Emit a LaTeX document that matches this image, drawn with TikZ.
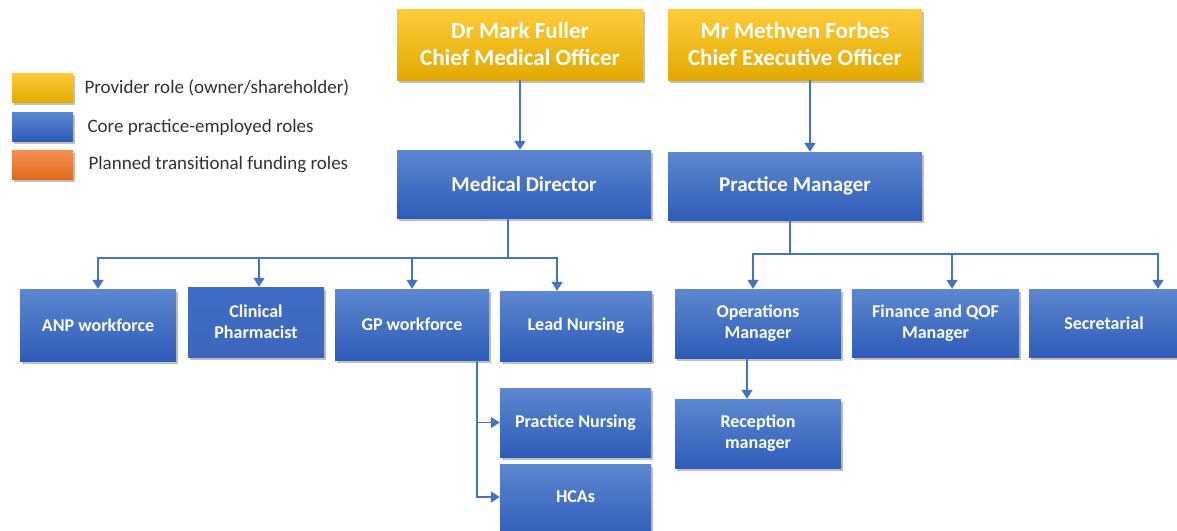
\documentclass[tikz,border=0pt]{standalone}
\usepackage{fontspec}
\setmainfont{Carlito}
\usetikzlibrary{arrows.meta,shadows,calc}

\definecolor{ytop}{HTML}{FFCB3A}
\definecolor{ymid}{HTML}{FFC000}
\definecolor{ybot}{HTML}{E2AA00}
\definecolor{btop}{HTML}{5D87D0}
\definecolor{bmid}{HTML}{3F6CC6}
\definecolor{bbot}{HTML}{2E5CB8}
\definecolor{otop}{HTML}{F49050}
\definecolor{omid}{HTML}{F07A2A}
\definecolor{obot}{HTML}{E06A1A}
\definecolor{linkc}{HTML}{4472C4}
\definecolor{legtext}{HTML}{333333}

\tikzset{
  shadowed/.style={drop shadow={shadow xshift=1.5pt, shadow yshift=-2.5pt, opacity=0.35, fill=black!70}},
  provider/.style={rectangle, inner sep=2pt, shadowed,
    top color=ytop, middle color=ymid, bottom color=ybot,
    text=white, font=\bfseries\fontsize{23}{27}\selectfont, align=center},
  corebox/.style={rectangle, inner sep=2pt, shadowed,
    top color=btop, middle color=bmid, bottom color=bbot,
    text=white, font=\bfseries\fontsize{18}{21}\selectfont, align=center},
  bigcore/.style={corebox, font=\bfseries\fontsize{21}{24}\selectfont},
  flatcore/.style={corebox, top color=bmid, middle color=bmid, bottom color=bmid!95!black},
  swatch/.style={rectangle, minimum width=61pt, minimum height=29pt, shadowed},
  legendtext/.style={anchor=west, text=legtext, font=\fontsize{19}{22}\selectfont},
  link/.style={draw=linkc, line width=1.4pt},
  arr/.style={link, -{Triangle[width=11pt,length=9pt]}}
}

\begin{document}
\begin{tikzpicture}[x=1pt, y=-1pt]
\clip (0,0) rectangle (1177,530);
\fill[white] (0,0) rectangle (1177,530);

% legend
\node[swatch, top color=ytop, middle color=ymid, bottom color=ybot] (sw1) at (42.5,87.5) {};
\node[swatch, top color=btop, middle color=bmid, bottom color=bbot] (sw2) at (42.5,126.5) {};
\node[swatch, top color=otop, middle color=omid, bottom color=obot] (sw3) at (42.5,164.5) {};
\node[legendtext] (lt1) at (81,88) {Provider role (owner/shareholder)};
\node[legendtext] (lt2) at (84,127) {Core practice-employed roles};
\node[legendtext] (lt3) at (85,165) {Planned transitional funding roles};

% owners
\node[provider, minimum width=246pt, minimum height=71pt] (cmo) at (520,44.5) {Dr Mark Fuller\\Chief Medical Officer};
\node[provider, minimum width=254pt, minimum height=71pt] (ceo) at (795,44.5) {Mr Methven Forbes\\Chief Executive Officer};

% directors
\node[bigcore, minimum width=254pt, minimum height=68pt] (md) at (524,184) {Medical Director};
\node[bigcore, minimum width=254pt, minimum height=68pt] (pm) at (795,186) {Practice Manager};

% clinical staff
\node[corebox, minimum width=156pt, minimum height=72pt] (anp) at (98,325) {ANP workforce};
\node[flatcore, minimum width=136pt, minimum height=70pt] (cph) at (256,322) {Clinical\\Pharmacist};
\node[corebox, minimum width=154pt, minimum height=71pt] (gp) at (412,324.5) {GP workforce};
\node[corebox, minimum width=152pt, minimum height=70pt] (lead) at (576,326) {Lead Nursing};
\node[corebox, minimum width=151pt, minimum height=69pt] (pn) at (575.5,422.5) {Practice Nursing};
\node[corebox, minimum width=151pt, minimum height=76pt] (hca) at (575.5,502) {};
\node[text=white, font=\bfseries\fontsize{18}{21}\selectfont] (hcat) at (575.5,497) {HCAs};

% management staff
\node[corebox, minimum width=166pt, minimum height=69pt] (ops) at (758,323.5) {Operations\\Manager};
\node[corebox, minimum width=167pt, minimum height=68pt] (fin) at (935.5,323) {Finance and QOF\\Manager};
\node[corebox, minimum width=150pt, minimum height=68pt] (sec) at (1104,323) {Secretarial};
\node[corebox, minimum width=166pt, minimum height=69pt] (rec) at (758,433.5) {Reception\\manager};

% reporting lines
\draw[arr] (cmo.south) -- (cmo.south |- md.north);
\draw[arr] ($(ceo.south)+(15,0)$) -- ($(ceo.south |- pm.north)+(15,0)$);

\coordinate (mdbus) at (508,258);
\draw[link] (md.south -| mdbus) -- (mdbus);
\draw[arr] (mdbus) -| (anp.north);
\draw[arr] (mdbus) -| ($(cph.north)+(3,0)$);
\draw[arr] (mdbus) -| (gp.north);
\draw[arr] (mdbus) -| ($(lead.north)+(-19,0)$);

\coordinate (gpstem) at (477,360);
\draw[arr] (gpstem) |- (pn.west);
\draw[arr] (gpstem) |- (hca.west |- hcat);

\coordinate (pmbus) at (790,254);
\draw[link] (pm.south -| pmbus) -- (pmbus);
\draw[arr] (pmbus) -| ($(ops.north)+(-5,0)$);
\draw[arr] (pmbus) -| ($(fin.north)+(16.5,0)$);
\draw[arr] (pmbus) -| ($(sec.north)+(54,0)$);

\draw[arr] ($(ops.south)+(-11,0)$) -- ($(ops.south |- rec.north)+(-11,0)$);
\end{tikzpicture}
\end{document}
